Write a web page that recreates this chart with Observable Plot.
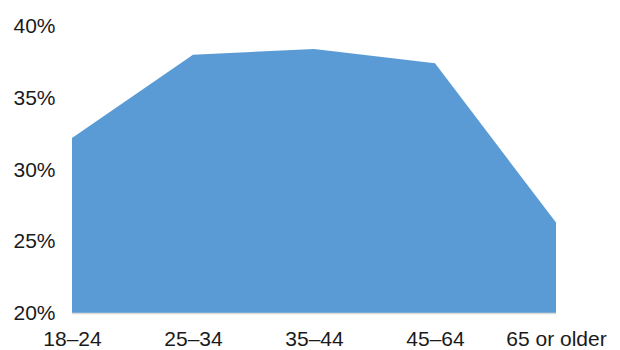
<!DOCTYPE html>
<html>
<head>
<meta charset="utf-8">
<script src="https://cdn.jsdelivr.net/npm/d3@7"></script>
<script src="https://cdn.jsdelivr.net/npm/@observablehq/plot@0.6"></script>
<style>
  html, body { margin: 0; padding: 0; background: #fff; }
  svg { display: block; }
</style>
</head>
<body>
<div id="chart"></div>
<script>
const ageGroups = ["18–24", "25–34", "35–44", "45–64", "65 or older"];
const shares = [32.2, 38.0, 38.4, 37.4, 26.3];
const yTicks = [20, 25, 30, 35, 40];

const data = ageGroups.map((g, i) => ({group: g, value: shares[i]}));

const chart = Plot.plot({
  width: 620,
  height: 350,
  marginLeft: 72,
  marginRight: 64,
  marginTop: 26,
  marginBottom: 37,
  style: {fontFamily: "'Liberation Sans', Arial, sans-serif", background: "#fff"},
  x: {type: "point", domain: ageGroups, padding: 0},
  y: {domain: [20, 40]},
  marks: [
    Plot.areaY(data, {x: "group", y1: 20, y2: "value", fill: "#5B9BD5"}),
    Plot.ruleY([20], {stroke: "#d9d9d9", strokeWidth: 1.5}),
    Plot.axisX({label: null, tickSize: 0, tickPadding: 18, fontSize: 21, fill: "#1a1a1a"}),
    Plot.axisY({ticks: yTicks, tickFormat: d => d + "%", label: null, tickSize: 0, tickPadding: 17, fontSize: 21, fill: "#1a1a1a"})
  ]
});
document.getElementById("chart").appendChild(chart);
</script>
</body>
</html>
